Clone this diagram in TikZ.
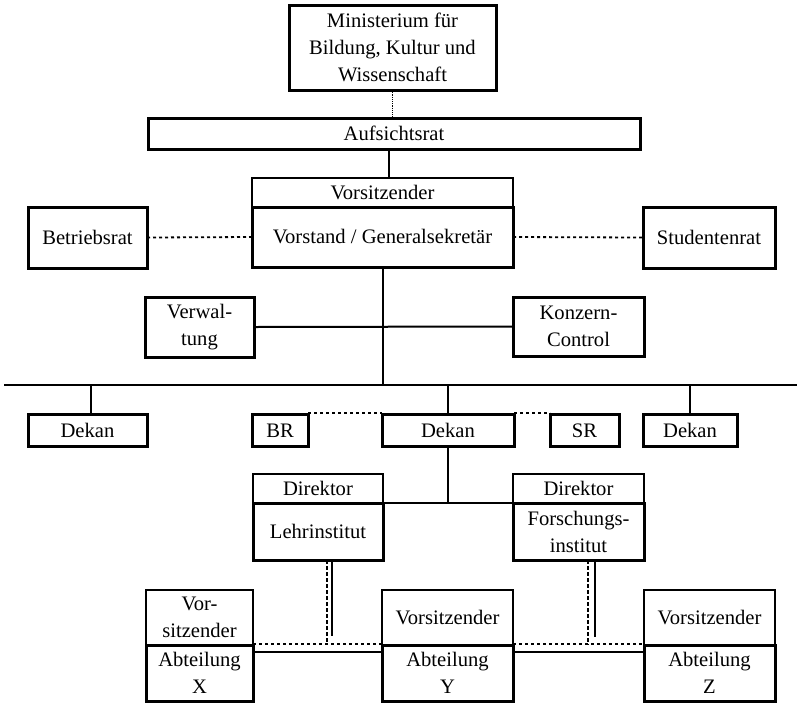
\documentclass[tikz,border=0pt]{standalone}
\usepackage{fontspec}
\setmainfont{Liberation Serif}
\newcommand\boxfont{\fontsize{20.6}{27}\selectfont}
\begin{document}
\begin{tikzpicture}[x=1pt,y=-1pt,
  bx/.style={draw, line width=3pt, inner sep=0pt, outer sep=0pt, align=center, font=\boxfont},
  tbx/.style={bx, line width=1.2pt},
  mbx/.style={bx, line width=2pt},
  ln/.style={line width=2pt},
  dt/.style={line width=1.8pt, dash pattern=on 3pt off 3pt},
  dsh/.style={line width=1.3pt, dash pattern=on 4pt off 2pt}]
\useasboundingbox (0,0) rectangle (797,702);
% thin boxes
\node[tbx, minimum width=261pt, minimum height=29pt] (vors) at (382.5,192.5) {Vorsitzender};
\node[mbx, minimum width=130pt, minimum height=29pt] (dirL) at (318,488.5) {Direktor};
\node[mbx, minimum width=131pt, minimum height=29pt] (dirR) at (578.5,488.5) {Direktor};
\node[mbx, minimum width=107pt, minimum height=55pt] (vorsX) at (199.5,617.5) {Vor-\\sitzender};
\node[mbx, minimum width=131pt, minimum height=55pt] (vorsY) at (447.5,617.5) {Vorsitzender};
\node[mbx, minimum width=131pt, minimum height=55pt] (vorsZ) at (709.5,617.5) {Vorsitzender};
% thick boxes
\node[bx, minimum width=207pt, minimum height=85pt] (min) at (392.5,47.5) {Ministerium für\\Bildung, Kultur und\\Wissenschaft};
\node[bx, minimum width=492pt, minimum height=31pt] (auf) at (394,133.5) {Aufsichtsrat};
\node[bx, minimum width=261pt, minimum height=60pt] (vorstand) at (382.5,237) {Vorstand / Generalsekretär};
\node[bx, minimum width=119pt, minimum height=61pt] (betr) at (87.5,237.5) {Betriebsrat};
\node[bx, minimum width=132pt, minimum height=61pt] (stud) at (709,237.5) {Studentenrat};
\node[bx, minimum width=109pt, minimum height=60pt] (verw) at (199.5,327) {Verwal-\\tung};
\node[bx, minimum width=131pt, minimum height=59pt] (konz) at (578.5,326.5) {Konzern-\\Control};
\node[bx, minimum width=119pt, minimum height=32pt, text height=14pt, text depth=0pt] (dekanL) at (87.5,430) {Dekan};
\node[bx, minimum width=56pt, minimum height=32pt, text height=14pt, text depth=0pt] (br) at (280,430) {BR};
\node[bx, minimum width=132pt, minimum height=32pt, text height=14pt, text depth=0pt] (dekanM) at (448,430) {Dekan};
\node[bx, minimum width=69pt, minimum height=32pt, text height=14pt, text depth=0pt] (sr) at (584.5,430) {SR};
\node[bx, minimum width=94pt, minimum height=32pt, text height=14pt, text depth=0pt] (dekanR) at (690,430) {Dekan};
\node[bx, minimum width=130pt, minimum height=57pt] (lehr) at (318,531.5) {Lehrinstitut};
\node[bx, minimum width=131pt, minimum height=57pt] (forsch) at (578.5,531.5) {Forschungs-\\institut};
\node[bx, minimum width=107pt, minimum height=56pt] (abtX) at (199.5,673) {Abteilung\\X};
\node[bx, minimum width=131pt, minimum height=56pt] (abtY) at (447.5,673) {Abteilung\\Y};
\node[bx, minimum width=131pt, minimum height=56pt] (abtZ) at (709.5,673) {Abteilung\\Z};
% connectors
\draw[densely dotted, line width=1.2pt] (min.south) -- (min.south |- auf.north);
\draw[ln] ([xshift=6.5pt]vors.north) -- ([xshift=6.5pt]vors.north |- auf.south);
\draw[dt] (betr.east) -- (vorstand.west);
\draw[dt] (vorstand.east) -- (stud.west);
\coordinate (busL) at (4,385);
\coordinate (busR) at (797,385);
\draw[ln] (busL) -- (busR);
\draw[ln] (vorstand.south) -- (vorstand.south |- busL);
\draw[ln] (verw.east) -- (konz.west);
\draw[ln] ([xshift=3.5pt]dekanL.north) -- ([xshift=3.5pt]dekanL.north |- busL);
\draw[ln] (dekanM.north) -- (dekanM.north |- busL);
\draw[ln] (dekanR.north) -- (dekanR.north |- busL);
\draw[dt] ([yshift=1pt]br.north east) -- ([yshift=1pt]dekanM.north west);
\draw[dt] ([yshift=1pt]dekanM.north east) -- ([yshift=1pt]sr.north west);
\draw[ln] (dekanM.south) -- (dekanM.south |- lehr.north east);
\draw[ln] (lehr.north east) -- (forsch.north west);
\draw[dsh] ([xshift=9pt]lehr.south) -- ([xshift=9pt]lehr.south |- abtX.north);
\draw[ln] ([xshift=14pt]lehr.south) -- ++(0,76);
\draw[dsh] ([xshift=9.5pt]forsch.south) -- ([xshift=9.5pt]forsch.south |- abtZ.north);
\draw[ln] ([xshift=16.5pt]forsch.south) -- ++(0,77);
\draw[dt] ([yshift=1pt]vorsX.south east) -- ([yshift=1pt]vorsY.south west);
\draw[dt] ([yshift=1pt]vorsY.south east) -- ([yshift=1pt]vorsZ.south west);
\draw[ln] ([yshift=-7pt]abtX.north east) -- ([yshift=-7pt]abtY.north west);
\draw[ln] ([yshift=-7pt]abtY.north east) -- ([yshift=-7pt]abtZ.north west);
\end{tikzpicture}
\end{document}
